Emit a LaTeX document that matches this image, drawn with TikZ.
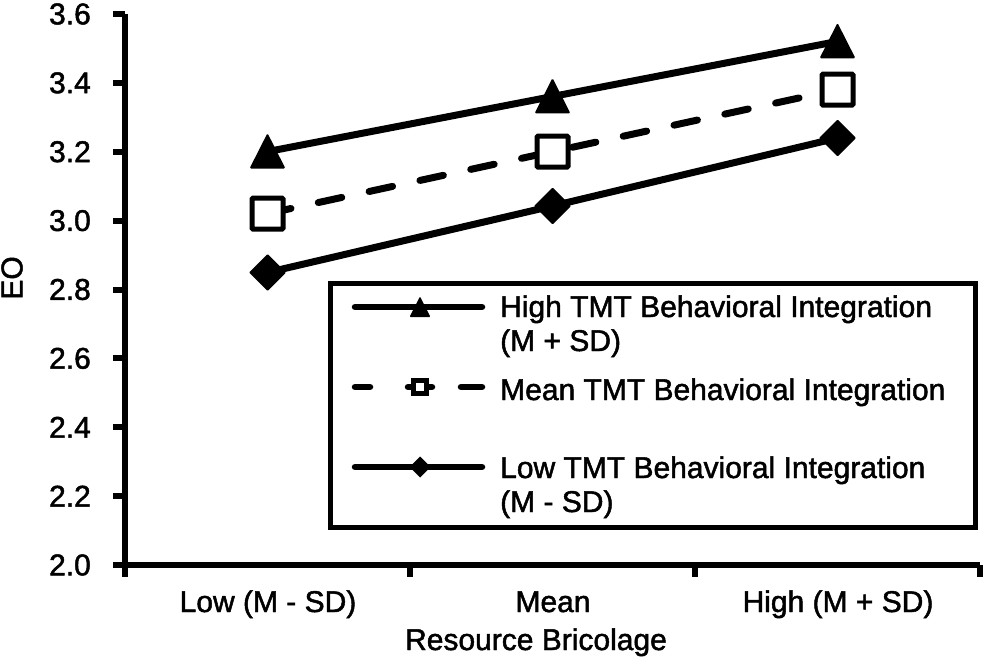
\documentclass[tikz,border=0pt]{standalone}
\usepackage{fontspec}
\setmainfont{Liberation Sans}
\newfontfamily\heavyfont{Liberation Sans}[FakeBold=1.6]
\begin{document}
\begin{tikzpicture}[x=1pt,y=-1pt,
  lbl/.style={font=\heavyfont\fontsize{30}{34}\selectfont, inner sep=0pt, text=black},
  axisline/.style={line width=6pt},
  dataline/.style={line width=7pt, line cap=round, line join=round},
  dashline/.style={dataline, dash pattern=on 24pt off 28pt},
  legline/.style={line width=6.5pt, line cap=round},
  tri/.pic={\fill[rounded corners=1.5pt] (0,-18.5) -- (18,17) -- (-18,17) -- cycle;},
  sqm/.pic={\filldraw[fill=white, line width=5pt, rounded corners=1pt] (-15.5,-15.5) rectangle (15.5,15.5);},
  dia/.pic={\fill[rounded corners=1pt] (0,-18.5) -- (18.5,0) -- (0,18.5) -- (-18.5,0) -- cycle;},
  stri/.pic={\fill[rounded corners=1pt] (0,-10.5) -- (10.5,10) -- (-10.5,10) -- cycle;},
  ssqm/.pic={\filldraw[fill=white, line width=4.5pt] (-6.5,-6.5) rectangle (6.5,6.5);},
  sdia/.pic={\fill (0,-10.5) -- (10.5,0) -- (0,10.5) -- (-10.5,0) -- cycle;}
]
\useasboundingbox (0,0) rectangle (983,658);

% axes
\coordinate (ytop) at (125,14);
\coordinate (ybot) at (125,577);
\coordinate (xl) at (113,565);
\coordinate (xr) at (980,565);
\draw[axisline] (ytop) -- (ybot);
\draw[axisline] (xl) -- (xr);
\foreach \i/\t in {0/2.0,1/2.2,2/2.4,3/2.6,4/2.8,5/3.0,6/3.2,7/3.4,8/3.6}{
  \draw[axisline] (113,{565-\i*68.875}) -- (125,{565-\i*68.875});
  \node[lbl, anchor=east] (yt\i) at (91,{565-\i*68.875}) {\t};
}
\foreach \xx in {410,695,980}{
  \draw[axisline] (\xx,565) -- (\xx,577);
}

% axis labels
\node[lbl, anchor=base] (cLow) at (268,612) {Low (M - SD)};
\node[lbl, anchor=base] (cMean) at (553,612) {Mean};
\node[lbl, anchor=base] (cHigh) at (838,612) {High (M + SD)};
\node[lbl, anchor=base] (xtitle) at (536,650) {Resource Bricolage};
\node[lbl, rotate=90] (ytitle) at (12,278) {EO};

% data points
\coordinate (h1) at (267.5,151.6);
\coordinate (h2) at (552.5,96.5);
\coordinate (h3) at (837.5,41.4);
\coordinate (m1) at (267.5,213.6);
\coordinate (m2) at (552.5,151.6);
\coordinate (m3) at (837.5,89.6);
\coordinate (l1) at (267.5,272.5);
\coordinate (l2) at (552.5,206.0);
\coordinate (l3) at (837.5,138.0);

\draw[dataline] (h1) -- (h2) -- (h3);
\draw[dashline] (m1) -- (m2) -- (m3);
\draw[dataline] (l1) -- (l2) -- (l3);

\foreach \p in {h1,h2,h3}{\pic at (\p) {tri};}
\foreach \p in {m1,m2,m3}{\pic at (\p) {sqm};}
\foreach \p in {l1,l2,l3}{\pic at (\p) {dia};}

% legend
\draw[line width=5pt] (330,283) rectangle (975,527);
\coordinate (ha) at (355,307);
\coordinate (hb) at (482,307);
\draw[legline] (ha) -- (hb);
\pic at (420,307) {stri};
\node[lbl, anchor=base west] (lh1) at (500,317) {High TMT Behavioral Integration};
\node[lbl, anchor=base west] (lh2) at (500,351) {(M + SD)};

\draw[legline] (355,387) -- (370,387);
\draw[legline] (408,387) -- (432,387);
\draw[legline] (461,387) -- (482,387);
\pic at (420,387) {ssqm};
\node[lbl, anchor=base west] (lm1) at (500,400) {Mean TMT Behavioral Integration};

\coordinate (la) at (355,467);
\coordinate (lb) at (482,467);
\draw[legline] (la) -- (lb);
\pic at (420,467) {sdia};
\node[lbl, anchor=base west] (ll1) at (500,478) {Low TMT Behavioral Integration};
\node[lbl, anchor=base west] (ll2) at (500,512) {(M - SD)};
\end{tikzpicture}
\end{document}
